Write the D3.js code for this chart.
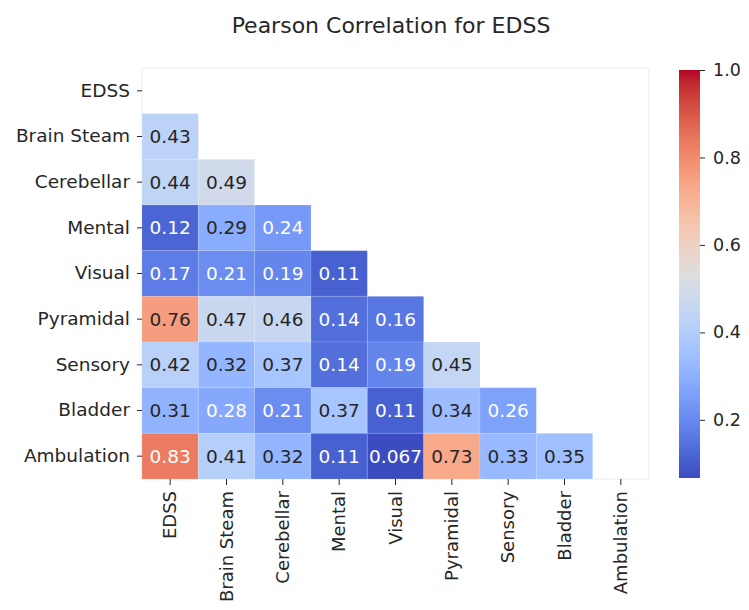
<!DOCTYPE html>
<html>
<head>
<meta charset="utf-8">
<script src="https://cdn.jsdelivr.net/npm/d3@7"></script>
<style>
  body { margin: 0; background: #fff; }
  text { font-family: "DejaVu Sans", sans-serif; fill: #262626; }
</style>
</head>
<body>
<div id="chart"></div>
<script>
// labels of the matrix, top to bottom / left to right
var labels = ['EDSS', 'Brain Steam', 'Cerebellar', 'Mental', 'Visual',
              'Pyramidal', 'Sensory', 'Bladder', 'Ambulation']
// lower triangle only (diagonal and above are masked)
var lowerTriangle = [
  [],
  [0.43],
  [0.44, 0.49],
  [0.12, 0.29, 0.24],
  [0.17, 0.21, 0.19, 0.11],
  [0.76, 0.47, 0.46, 0.14, 0.16],
  [0.42, 0.32, 0.37, 0.14, 0.19, 0.45],
  [0.31, 0.28, 0.21, 0.37, 0.11, 0.34, 0.26],
  [0.83, 0.41, 0.32, 0.11, 0.067, 0.73, 0.33, 0.35]
]
var colorbarTicks = [0.2, 0.4, 0.6, 0.8, 1.0]
var vmin = 0.067, vmax = 1.0

// coolwarm (Moreland) control colours
var coolwarm = [
  [59,76,192],[68,90,204],[77,104,215],[87,117,225],[98,130,234],[108,142,241],
  [119,154,247],[130,165,251],[141,176,254],[152,185,255],[163,194,255],[174,201,253],
  [184,208,249],[194,213,244],[204,217,238],[213,219,230],[221,221,221],[229,216,209],
  [236,211,197],[241,204,185],[245,196,173],[247,187,160],[247,177,148],[247,166,135],
  [244,154,123],[241,141,111],[236,127,99],[229,112,88],[222,96,77],[213,80,66],
  [203,62,56],[192,40,47],[180,4,38]
].map(function (c) { return d3.rgb(c[0], c[1], c[2]).toString() })
var cmap = d3.piecewise(d3.interpolateRgb, coolwarm)
var colorScale = function (v) { return cmap(Math.max(0, Math.min(1, (v - vmin) / (vmax - vmin)))) }

function luminance(col) {
  var c = d3.rgb(col)
  var lin = [c.r, c.g, c.b].map(function (v) {
    v = v / 255
    return v <= 0.03928 ? v / 12.92 : Math.pow((v + 0.055) / 1.055, 2.4)
  })
  return 0.2126 * lin[0] + 0.7152 * lin[1] + 0.0722 * lin[2]
}

var W = 749, H = 610
var margin = { top: 68, left: 142, right: 100, bottom: 131 }
var w = 649 - margin.left
var h = 479 - margin.top

var svg = d3.select('#chart').append('svg')
    .attr('width', W)
    .attr('height', H)

// title
svg.append('text')
    .attr('x', 391)
    .attr('y', 33)
    .attr('text-anchor', 'middle')
    .style('font-size', '22px')
    .text('Pearson Correlation for EDSS')

var g = svg.append('g')
    .attr('transform', 'translate(' + margin.left + ',' + margin.top + ')')

var xScale = d3.scaleBand().domain(labels).range([0, w])
var yScale = d3.scaleBand().domain(labels).range([0, h])

// frame
g.append('rect')
    .attr('width', w)
    .attr('height', h)
    .attr('fill', 'none')
    .attr('stroke', '#ebebeb')
    .attr('stroke-width', 1)

var cells = []
lowerTriangle.forEach(function (row, i) {
  row.forEach(function (v, j) {
    cells.push({ row: labels[i], col: labels[j], value: v })
  })
})

g.selectAll('rect.cell')
    .data(cells)
    .enter()
  .append('rect')
    .attr('class', 'cell')
    .attr('x', function (d) { return xScale(d.col) })
    .attr('y', function (d) { return yScale(d.row) })
    .attr('width', xScale.bandwidth())
    .attr('height', yScale.bandwidth())
    .attr('fill', function (d) { return colorScale(d.value) })
    .attr('stroke', 'rgba(255,255,255,0.12)')
    .attr('stroke-width', 1)

g.selectAll('text.annot')
    .data(cells)
    .enter()
  .append('text')
    .attr('class', 'annot')
    .attr('x', function (d) { return xScale(d.col) + xScale.bandwidth() / 2 })
    .attr('y', function (d) { return yScale(d.row) + yScale.bandwidth() / 2 })
    .attr('dy', '0.36em')
    .attr('text-anchor', 'middle')
    .style('font-size', '18.5px')
    .style('fill', function (d) { return luminance(colorScale(d.value)) > 0.408 ? '#262626' : '#ffffff' })
    .text(function (d) { return String(d.value) })

// axes
var yAxis = g.append('g')
    .call(d3.axisLeft(yScale).tickSize(5).tickPadding(7))
yAxis.select('.domain').remove()
yAxis.selectAll('line').attr('stroke', '#262626')
yAxis.selectAll('text').style('font-size', '18.5px').attr('fill', '#262626')

var xAxis = g.append('g')
    .attr('transform', 'translate(0,' + h + ')')
    .call(d3.axisBottom(xScale).tickSize(6))
xAxis.select('.domain').remove()
xAxis.selectAll('line').attr('stroke', '#262626')
xAxis.selectAll('text')
    .style('font-size', '18px')
    .attr('fill', '#262626')
    .attr('text-anchor', 'end')
    .attr('transform', 'rotate(-90)')
    .attr('x', -12)
    .attr('y', 0)
    .attr('dy', '0.35em')

// colorbar
var cbX = 679, cbW = 21, cbTop = 70, cbBottom = 478
var defs = svg.append('defs')
var grad = defs.append('linearGradient')
    .attr('id', 'cbGrad')
    .attr('x1', 0).attr('y1', 1).attr('x2', 0).attr('y2', 0)
d3.range(0, 1.0001, 1 / 64).forEach(function (t) {
  grad.append('stop')
      .attr('offset', t)
      .attr('stop-color', cmap(t))
})
svg.append('rect')
    .attr('x', cbX)
    .attr('y', cbTop)
    .attr('width', cbW)
    .attr('height', cbBottom - cbTop)
    .attr('fill', 'url(#cbGrad)')

var cbScale = d3.scaleLinear().domain([vmin, vmax]).range([cbBottom, cbTop])
var cbAxis = svg.append('g')
    .attr('transform', 'translate(' + (cbX + cbW) + ',0)')
    .call(d3.axisRight(cbScale).tickValues(colorbarTicks).tickFormat(d3.format('.1f')).tickSize(5).tickPadding(8))
cbAxis.select('.domain').remove()
cbAxis.selectAll('line').attr('stroke', '#262626')
cbAxis.selectAll('text').style('font-size', '17.5px').attr('fill', '#262626')
</script>
</body>
</html>
